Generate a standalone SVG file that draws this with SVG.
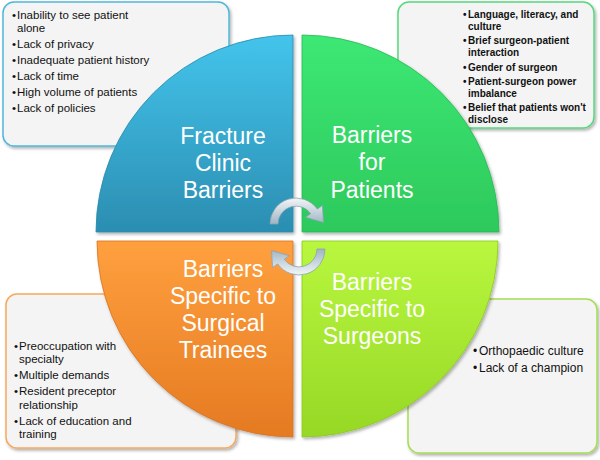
<svg xmlns="http://www.w3.org/2000/svg" width="600" height="460" viewBox="0 0 600 460">
<defs>
<linearGradient id="gBlue" x1="0" y1="0" x2="0" y2="1"><stop offset="0" stop-color="#44c4ec"/><stop offset="1" stop-color="#2b8eb1"/></linearGradient>
<linearGradient id="gGreen" x1="0" y1="0" x2="0" y2="1"><stop offset="0" stop-color="#3de874"/><stop offset="1" stop-color="#2dc95c"/></linearGradient>
<linearGradient id="gOrange" x1="0" y1="0" x2="0" y2="1"><stop offset="0" stop-color="#ffa03e"/><stop offset="1" stop-color="#e57a22"/></linearGradient>
<linearGradient id="gLime" x1="0" y1="0" x2="0" y2="1"><stop offset="0" stop-color="#b9f73e"/><stop offset="1" stop-color="#96d826"/></linearGradient>
<linearGradient id="gArrow" x1="0" y1="0" x2="0" y2="1"><stop offset="0" stop-color="#f2f6f8"/><stop offset="1" stop-color="#9fb4c3"/></linearGradient>
<filter id="sh" x="-10%" y="-10%" width="125%" height="125%"><feDropShadow dx="1.5" dy="2" stdDeviation="1.5" flood-color="#000" flood-opacity="0.3"/></filter>
<style>
.box{fill:#f4f4f4;stroke-width:1.5;filter:url(#sh)}
.quad{filter:url(#sh)}
.qt{font-family:"Liberation Sans",Arial,sans-serif;font-size:23px;fill:#ffffff;text-anchor:middle}
.bt{font-family:"Liberation Sans",Arial,sans-serif;font-size:11.5px;fill:#111}
.gt{font-family:"Liberation Sans",Arial,sans-serif;font-size:10px;font-weight:bold;fill:#111}
.lt{font-family:"Liberation Sans",Arial,sans-serif;font-size:12px;fill:#111}
.arrow{fill:url(#gArrow);stroke:#8aa2b3;stroke-width:0.8}
</style>
</defs>
<rect width="600" height="460" fill="#ffffff"/>

<g id="box-fracture-clinic">
<rect class="box" x="3" y="2" width="226" height="144" rx="11" stroke="#4fb6dc"/>
<g class="bt">
<text x="12" y="19">•</text><text x="17" y="19">Inability to see patient</text>
<text x="17" y="32">alone</text>
<text x="12" y="48">•</text><text x="17" y="48">Lack of privacy</text>
<text x="12" y="64">•</text><text x="17" y="64">Inadequate patient history</text>
<text x="12" y="80">•</text><text x="17" y="80">Lack of time</text>
<text x="12" y="96">•</text><text x="17" y="96">High volume of patients</text>
<text x="12" y="112">•</text><text x="17" y="112">Lack of policies</text>
</g>
</g>

<g id="box-patients">
<rect class="box" x="398" y="2" width="196" height="126" rx="11" stroke="#55d87c"/>
<g class="gt">
<text x="463" y="18">•</text><text x="468" y="18">Language, literacy, and</text>
<text x="468" y="30">culture</text>
<text x="463" y="44">•</text><text x="468" y="44">Brief surgeon-patient</text>
<text x="468" y="56">interaction</text>
<text x="463" y="71">•</text><text x="468" y="71">Gender of surgeon</text>
<text x="463" y="85">•</text><text x="468" y="85">Patient-surgeon power</text>
<text x="468" y="97">imbalance</text>
<text x="463" y="111">•</text><text x="468" y="111">Belief that patients won't</text>
<text x="468" y="123">disclose</text>
</g>
</g>

<g id="box-trainees">
<rect class="box" x="6" y="294" width="230" height="154" rx="11" stroke="#f7a85e"/>
<g class="bt">
<text x="14" y="350">•</text><text x="19" y="350">Preoccupation with</text>
<text x="19" y="363">specialty</text>
<text x="14" y="379">•</text><text x="19" y="379">Multiple demands</text>
<text x="14" y="395">•</text><text x="19" y="395">Resident preceptor</text>
<text x="19" y="409">relationship</text>
<text x="14" y="425">•</text><text x="19" y="425">Lack of education and</text>
<text x="19" y="438">training</text>
</g>
</g>

<g id="box-surgeons">
<rect class="box" x="408" y="299" width="189" height="154" rx="11" stroke="#a6dc52"/>
<g class="lt">
<text x="473" y="355">•</text><text x="479" y="355">Orthopaedic culture</text>
<text x="473" y="372">•</text><text x="479" y="372">Lack of a champion</text>
</g>
</g>

<g id="quad-fracture-clinic">
<path class="quad" d="M293,232 L96,232 A197,197 0 0 1 293,35 Z" fill="url(#gBlue)" stroke="#2a8aab" stroke-width="0.8"/>
<text class="qt" x="223" y="144">Fracture</text>
<text class="qt" x="223" y="171">Clinic</text>
<text class="qt" x="223" y="198">Barriers</text>
</g>

<g id="quad-patients">
<path class="quad" d="M302,232 L302,35 A197,197 0 0 1 499,232 Z" fill="url(#gGreen)" stroke="#29b955" stroke-width="0.8"/>
<text class="qt" x="372" y="143">Barriers</text>
<text class="qt" x="372" y="170">for</text>
<text class="qt" x="372" y="198">Patients</text>
</g>

<g id="quad-trainees">
<path class="quad" d="M293,241 L293,437 A196,196 0 0 1 97,241 Z" fill="url(#gOrange)" stroke="#d9721e" stroke-width="0.8"/>
<text class="qt" x="223" y="277">Barriers</text>
<text class="qt" x="223" y="304">Specific to</text>
<text class="qt" x="223" y="331">Surgical</text>
<text class="qt" x="223" y="358">Trainees</text>
</g>

<g id="quad-surgeons">
<path class="quad" d="M302,241 L498,241 A196,196 0 0 1 302,437 Z" fill="url(#gLime)" stroke="#8cc820" stroke-width="0.8"/>
<text class="qt" x="372" y="290">Barriers</text>
<text class="qt" x="372" y="317">Specific to</text>
<text class="qt" x="372" y="344">Surgeons</text>
</g>

<g id="connectors">
<path class="arrow" d="M270,224 A26,26 0 0 1 317.3,209.1 L322.4,205.6 L323.5,222.5 L305.6,217.3 L310.7,213.7 A18,18 0 0 0 278,224 Z"/>
<path class="arrow" transform="rotate(180 297.5 236.5)" d="M270,224 A26,26 0 0 1 317.3,209.1 L322.4,205.6 L323.5,222.5 L305.6,217.3 L310.7,213.7 A18,18 0 0 0 278,224 Z"/>
</g>
</svg>
